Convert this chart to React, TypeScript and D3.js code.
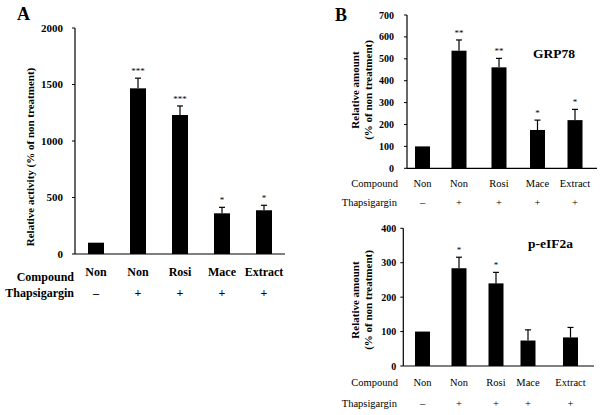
import React from "react";
import * as d3 from "d3";

const categories = ["Non", "Non", "Rosi", "Mace", "Extract"];
const thapsigargin = ["\u2013", "+", "+", "+", "+"];

const activityValues = [100, 1466, 1230, 360, 387];
const activityErrors = [0, 90, 80, 53, 44];
const activityStars = ["", "***", "***", "*", "*"];
const activityTicks = [0, 500, 1000, 1500, 2000];

const grpValues = [100, 537, 461, 175, 220];
const grpErrors = [0, 49, 41, 45, 49];
const grpStars = ["", "**", "**", "*", "*"];
const grpTicks = [0, 100, 200, 300, 400, 500, 600, 700];

const eifValues = [100, 284, 240, 74, 83];
const eifErrors = [0, 32, 32, 31, 29];
const eifStars = ["", "*", "*", "", ""];
const eifTicks = [0, 100, 200, 300, 400];

const FONT = "Liberation Serif";

type PanelProps = {
  values: number[];
  errors: number[];
  stars: string[];
  ticks: number[];
  yMax: number;
  axisX: number;
  axisEnd: number;
  yTop: number;
  yBottom: number;
  centers: number[];
  barW: number;
  tickFont: number;
  tickGap: number;
  titleLines: string[];
  titleXs: number[];
  titleY: number;
  titleFont: number;
  compoundY: number;
  compoundX: number;
  catY: number;
  thapY: number;
  thapX: number;
  labelFont: number;
  labelBold: boolean;
  starOffset: number;
  starFont: number;
};

function Panel(p: PanelProps) {
  const y = d3.scaleLinear().domain([0, p.yMax]).range([p.yBottom, p.yTop]);
  const lw = p.labelBold ? "bold" : "normal";
  return (
    <g style={{ fontFamily: FONT }}>
      <line x1={p.axisX} x2={p.axisX} y1={y(p.yMax)} y2={y(0)} stroke="#000" strokeWidth={1.2} />
      <line x1={p.axisX} x2={p.axisEnd} y1={y(0)} y2={y(0)} stroke="#000" strokeWidth={1.2} />
      {p.ticks.map((t) => (
        <g key={t}>
          <line x1={p.axisX - 3} x2={p.axisX} y1={y(t)} y2={y(t)} stroke="#000" strokeWidth={1} />
          <text x={p.axisX - p.tickGap} y={y(t)} dy="0.35em" textAnchor="end" fontSize={p.tickFont} fontWeight="bold">
            {t}
          </text>
        </g>
      ))}
      {p.values.map((v, i) => {
        const cx = p.centers[i];
        const top = y(v);
        const errTop = y(v + p.errors[i]);
        return (
          <g key={i}>
            <rect x={cx - p.barW / 2} y={top} width={p.barW} height={y(0) - top} fill="#000" />
            {p.errors[i] > 0 && (
              <g>
                <line x1={cx} x2={cx} y1={top} y2={errTop} stroke="#000" strokeWidth={1.2} />
                <line x1={cx - 3} x2={cx + 3} y1={errTop} y2={errTop} stroke="#000" strokeWidth={1.2} />
              </g>
            )}
            {p.stars[i] && (
              <text x={cx} y={errTop - p.starOffset} textAnchor="middle" fontSize={p.starFont}>
                {p.stars[i]}
              </text>
            )}
            <text x={cx} y={p.catY} dy="0.35em" textAnchor="middle" fontSize={p.labelFont} fontWeight={lw}>
              {categories[i]}
            </text>
            <text x={cx} y={p.thapY} dy="0.35em" textAnchor="middle" fontSize={p.labelFont} fontWeight={lw}>
              {thapsigargin[i]}
            </text>
          </g>
        );
      })}
      <text x={p.compoundX} y={p.compoundY} dy="0.35em" textAnchor="end" fontSize={p.labelFont} fontWeight={lw}>
        Compound
      </text>
      <text x={p.thapX} y={p.thapY} dy="0.35em" textAnchor="end" fontSize={p.labelFont} fontWeight={lw}>
        Thapsigargin
      </text>
      {p.titleLines.map((t, i) => (
        <text
          key={i}
          transform={`translate(${p.titleXs[i]},${p.titleY}) rotate(-90)`}
          textAnchor="middle"
          dy="0.35em"
          fontSize={p.titleFont}
          fontWeight="bold"
        >
          {t}
        </text>
      ))}
    </g>
  );
}

export default function App() {
  return (
    <svg width={600} height={415} style={{ display: "block", position: "absolute", left: 0, top: 0, fontFamily: FONT }}>
      <rect width={600} height={415} fill="#fff" />
      <text x={17} y={14} dy="0.35em" fontSize={18} fontWeight="bold">A</text>
      <text x={335} y={15} dy="0.35em" fontSize={18} fontWeight="bold">B</text>
      <Panel
        values={activityValues}
        errors={activityErrors}
        stars={activityStars}
        ticks={activityTicks}
        yMax={2000}
        axisX={75}
        axisEnd={285}
        yTop={28}
        yBottom={254}
        centers={[96, 138, 180, 222, 264]}
        barW={16}
        tickFont={11}
        tickGap={12}
        titleLines={["Relative activity (% of non treatment)"]}
        titleXs={[30]}
        titleY={157}
        titleFont={11}
        compoundY={277}
        compoundX={74}
        catY={272}
        thapY={293}
        thapX={74}
        labelFont={12}
        labelBold={true}
        starOffset={4}
        starFont={9}
      />
      <Panel
        values={grpValues}
        errors={grpErrors}
        stars={grpStars}
        ticks={grpTicks}
        yMax={700}
        axisX={407}
        axisEnd={597}
        yTop={15}
        yBottom={168.3}
        centers={[422.5, 459, 499, 537.5, 575]}
        barW={15}
        tickFont={10}
        tickGap={13}
        titleLines={["Relative amount", "(% of non treatment)"]}
        titleXs={[355, 368]}
        titleY={90}
        titleFont={11}
        compoundY={183}
        compoundX={398}
        catY={183}
        thapY={202}
        thapX={397}
        labelFont={10.5}
        labelBold={false}
        starOffset={4}
        starFont={9}
      />
      <text x={533} y={53} dy="0.35em" fontSize={13.5} fontWeight="bold">GRP78</text>
      <Panel
        values={eifValues}
        errors={eifErrors}
        stars={eifStars}
        ticks={eifTicks}
        yMax={400}
        axisX={403.3}
        axisEnd={594}
        yTop={228.3}
        yBottom={366}
        centers={[422.5, 459, 496, 528, 570.5]}
        barW={15}
        tickFont={10}
        tickGap={7}
        titleLines={["Relative amount", "(% of non treatment)"]}
        titleXs={[355, 368]}
        titleY={300}
        titleFont={11}
        compoundY={382}
        compoundX={398}
        catY={382}
        thapY={403}
        thapX={397}
        labelFont={10.5}
        labelBold={false}
        starOffset={4}
        starFont={9}
      />
      <text x={528} y={243} dy="0.35em" fontSize={13.5} fontWeight="bold">p-eIF2a</text>
    </svg>
  );
}
